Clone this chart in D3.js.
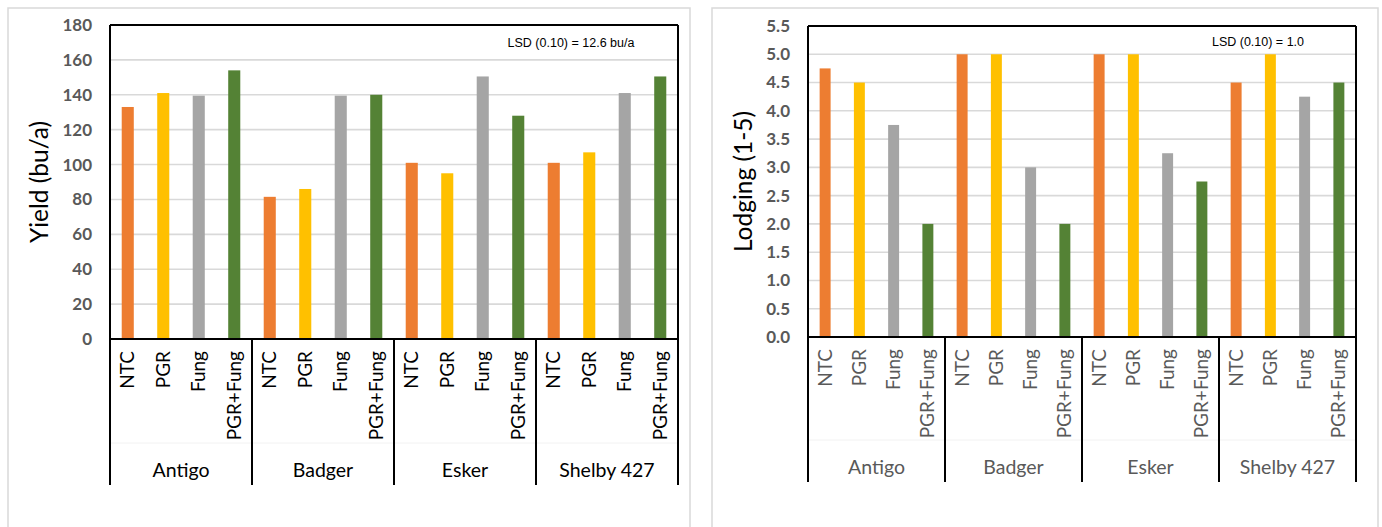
<!DOCTYPE html>
<html><head><meta charset="utf-8">
<script src="https://cdn.jsdelivr.net/npm/d3@7"></script>
<style>body{margin:0;background:#fff}svg{display:block}</style>
</head><body>
<svg id="chart" width="1382" height="527"></svg>
<script>
const groups = ["Antigo", "Badger", "Esker", "Shelby 427"];
const treatments = ["NTC", "PGR", "Fung", "PGR+Fung"];
const treatmentColors = ["#ED7D31", "#FFC000", "#A5A5A5", "#548235"];
// values per group, in treatment order
const yieldValues = [
  [133, 141, 139.5, 154],
  [81.5, 86, 139.5, 140],
  [101, 95, 150.5, 128],
  [101, 107, 141, 150.5]
];
const lodgingValues = [
  [4.75, 4.5, 3.75, 2.0],
  [5.0, 5.0, 3.0, 2.0],
  [5.0, 5.0, 3.25, 2.75],
  [4.5, 5.0, 4.25, 4.5]
];
const yieldTicks = [0, 20, 40, 60, 80, 100, 120, 140, 160, 180];
const lodgingTicks = [0, 0.5, 1, 1.5, 2, 2.5, 3, 3.5, 4, 4.5, 5, 5.5];
const yieldTitle = "Yield (bu/a)";
const lodgingTitle = "Lodging (1-5)";
const yieldNote = "LSD (0.10) = 12.6 bu/a";
const lodgingNote = "LSD (0.10) = 1.0";

const svg = d3.select("#chart");

function panel(o) {
  const g = svg.append("g");
  // outer frame
  g.append("rect").attr("x", o.fx).attr("y", o.fy).attr("width", o.fw).attr("height", o.fh)
    .attr("fill", "#fff").attr("stroke", "#d9d9d9").attr("stroke-width", 1.5);

  const cats = [];
  groups.forEach((gr, gi) => treatments.forEach((t, ti) => cats.push({key: gr + "|" + t, group: gr, t, ti, v: o.values[gi][ti]})));
  const x = d3.scaleBand().domain(cats.map(c => c.key)).range([o.left, o.right]).padding(0);
  const y = d3.scaleLinear().domain([0, o.ticks[o.ticks.length - 1]]).range([o.bottom, o.top]);

  // gridlines
  g.append("g").selectAll("line").data(o.ticks.filter(t => t > 0)).join("line")
    .attr("x1", o.left).attr("x2", o.right).attr("y1", d => y(d)).attr("y2", d => y(d))
    .attr("stroke", "#d9d9d9").attr("stroke-width", 1.6);

  // y axis labels
  const ya = g.append("g").attr("transform", `translate(${o.left},0)`)
    .call(d3.axisLeft(y).tickValues(o.ticks).tickSize(0).tickPadding(o.tickPad).tickFormat(o.fmt));
  ya.select(".domain").remove();
  ya.selectAll("text").attr("font-family", "Lato, sans-serif").attr("font-weight", "bold")
    .attr("font-size", 17).attr("fill", "#595959");

  // bars
  const bw = x.bandwidth() * o.barFrac;
  g.append("g").selectAll("rect").data(cats).join("rect")
    .attr("x", d => x(d.key) + (x.bandwidth() - bw) / 2).attr("width", bw)
    .attr("y", d => y(d.v)).attr("height", d => y(0) - y(d.v))
    .attr("fill", d => treatmentColors[d.ti]);

  // faint separator row line
  g.append("line").attr("x1", o.left).attr("x2", o.right).attr("y1", o.rowLine).attr("y2", o.rowLine)
    .attr("stroke", "#f2f2f2").attr("stroke-width", 1);

  // plot borders
  const line = (x1, y1, x2, y2) => g.append("line").attr("x1", x1).attr("y1", y1).attr("x2", x2).attr("y2", y2)
    .attr("stroke", "#000").attr("stroke-width", 2);
  line(o.left, o.top, o.right, o.top);
  line(o.left, o.bottom, o.right, o.bottom);
  // group separators
  const gw = (o.right - o.left) / groups.length;
  d3.range(groups.length + 1).forEach(i => {
    const xx = o.left + i * gw;
    line(xx, (i === 0 || i === groups.length) ? o.top : o.bottom, xx, o.catBottom);
  });

  // category labels
  g.append("g").selectAll("text").data(cats).join("text")
    .attr("transform", d => `translate(${x(d.key) + x.bandwidth() / 2 + 6.5},${o.bottom + 12}) rotate(-90)`)
    .attr("text-anchor", "end").attr("font-family", "Lato, sans-serif").attr("font-size", 19)
    .attr("fill", o.labelColor).text(d => d.t);

  // group labels
  g.append("g").selectAll("text").data(groups).join("text")
    .attr("x", (d, i) => o.left + (i + 0.5) * gw).attr("y", o.groupY)
    .attr("text-anchor", "middle").attr("font-family", "Lato, sans-serif").attr("font-size", 19.5)
    .attr("fill", o.labelColor).text(d => d);

  // y title
  g.append("text").attr("transform", `translate(${o.titleX},${(o.top + o.bottom) / 2}) rotate(-90)`)
    .attr("text-anchor", "middle").attr("font-family", "Lato, sans-serif").attr("font-size", 24.5)
    .attr("fill", "#000").text(o.title);

  // LSD note
  g.append("text").attr("x", o.noteX).attr("y", o.noteY).attr("text-anchor", "middle")
    .attr("font-family", "Liberation Sans, Arial, sans-serif").attr("font-size", 12.5)
    .attr("fill", "#000").text(o.note);
}

panel({
  fx: 8, fy: 8, fw: 682, fh: 540,
  left: 110, right: 678, top: 25, bottom: 339, catBottom: 485, rowLine: 443, groupY: 477,
  values: yieldValues, ticks: yieldTicks, fmt: d3.format("d"), tickPad: 18,
  barFrac: 0.34, labelColor: "#000", title: yieldTitle, titleX: 48,
  note: yieldNote, noteX: 571, noteY: 47
});
panel({
  fx: 712, fy: 8, fw: 666, fh: 540,
  left: 808, right: 1356, top: 26, bottom: 337, catBottom: 482, rowLine: 440, groupY: 474,
  values: lodgingValues, ticks: lodgingTicks, fmt: d3.format(".1f"), tickPad: 18,
  barFrac: 0.32, labelColor: "#595959", title: lodgingTitle, titleX: 752,
  note: lodgingNote, noteX: 1258, noteY: 46
});
</script>
</body></html>
